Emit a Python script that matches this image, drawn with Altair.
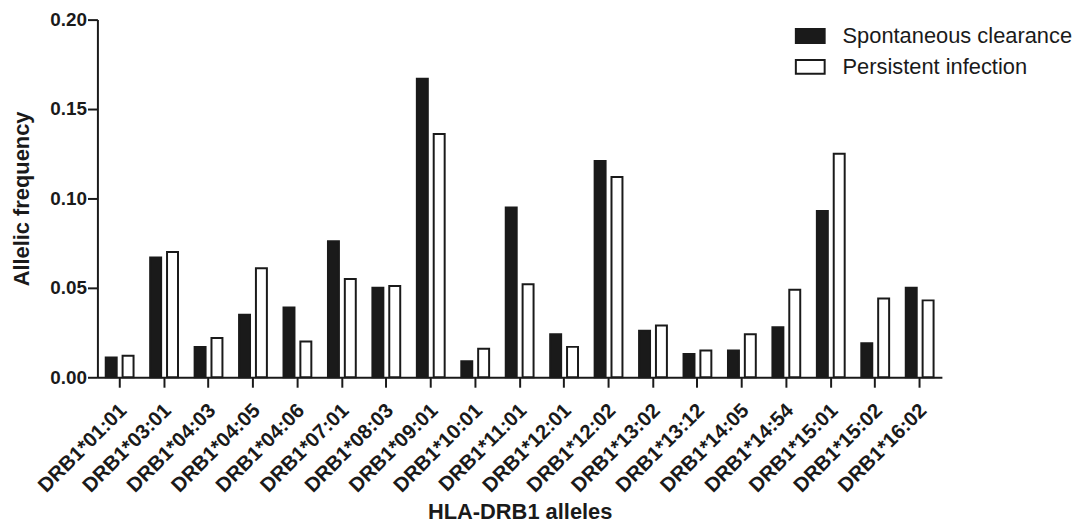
import altair as alt
import pandas as pd

alleles = ["DRB1*01:01", "DRB1*03:01", "DRB1*04:03", "DRB1*04:05", "DRB1*04:06",
           "DRB1*07:01", "DRB1*08:03", "DRB1*09:01", "DRB1*10:01", "DRB1*11:01",
           "DRB1*12:01", "DRB1*12:02", "DRB1*13:02", "DRB1*13:12", "DRB1*14:05",
           "DRB1*14:54", "DRB1*15:01", "DRB1*15:02", "DRB1*16:02"]
spontaneous = [0.011, 0.067, 0.017, 0.035, 0.039, 0.076, 0.050, 0.167, 0.009, 0.095,
               0.024, 0.121, 0.026, 0.013, 0.015, 0.028, 0.093, 0.019, 0.050]
persistent = [0.012, 0.070, 0.022, 0.061, 0.020, 0.055, 0.051, 0.136, 0.016, 0.052,
              0.017, 0.112, 0.029, 0.015, 0.024, 0.049, 0.125, 0.044, 0.043]
groups = ["Spontaneous clearance", "Persistent infection"]
y_ticks = [0.0, 0.05, 0.10, 0.15, 0.20]

rows = []
for a, s, p in zip(alleles, spontaneous, persistent):
    rows.append({"allele": a, "group": groups[0], "freq": s})
    rows.append({"allele": a, "group": groups[1], "freq": p})
df = pd.DataFrame(rows)

INK = "#1a1a1a"
FONT = "Liberation Sans"

chart = alt.Chart(df).mark_bar(stroke=INK, strokeWidth=2).encode(
    x=alt.X("allele:N", sort=alleles, title="HLA-DRB1 alleles",
            scale=alt.Scale(paddingInner=0.374, paddingOuter=0.187),
            axis=alt.Axis(labelAngle=-45, labelAlign="right", labelBaseline="middle",
                          labelFontSize=20.5, tickSize=10, labelPadding=20,
                          labelOffset=4, titlePadding=6)),
    xOffset=alt.XOffset("group:N", sort=groups, scale=alt.Scale(paddingInner=0.35)),
    y=alt.Y("freq:Q", title="Allelic frequency",
            scale=alt.Scale(domain=[0, 0.2], nice=False),
            axis=alt.Axis(values=y_ticks, format=".2f", tickSize=10, labelPadding=1,
                          labelFontSize=19, titlePadding=16, grid=False)),
    fill=alt.Fill("group:N", sort=groups,
                  scale=alt.Scale(domain=groups, range=[INK, "white"]),
                  legend=alt.Legend(title=None, orient="none", legendX=702, legendY=1,
                                    symbolType="M-1,-0.48H1V0.48H-1Z", symbolSize=841,
                                    symbolStrokeColor=INK, symbolStrokeWidth=2,
                                    symbolOpacity=1, labelLimit=500,
                                    labelFontSize=22, labelFont=FONT, labelColor=INK,
                                    labelOffset=17, rowPadding=4, padding=0)),
).properties(
    width=850, height=360,
    padding={"left": 3, "top": 1, "right": 5, "bottom": 0},
).configure_view(stroke=None).configure_axis(
    domainColor=INK, domainWidth=2, tickColor=INK, tickWidth=2,
    labelFont=FONT, labelFontWeight="bold", labelColor=INK,
    titleFont=FONT, titleFontSize=22, titleFontWeight="bold", titleColor=INK,
)

chart.save("out.html", embed_options={"renderer": "svg", "actions": False})
